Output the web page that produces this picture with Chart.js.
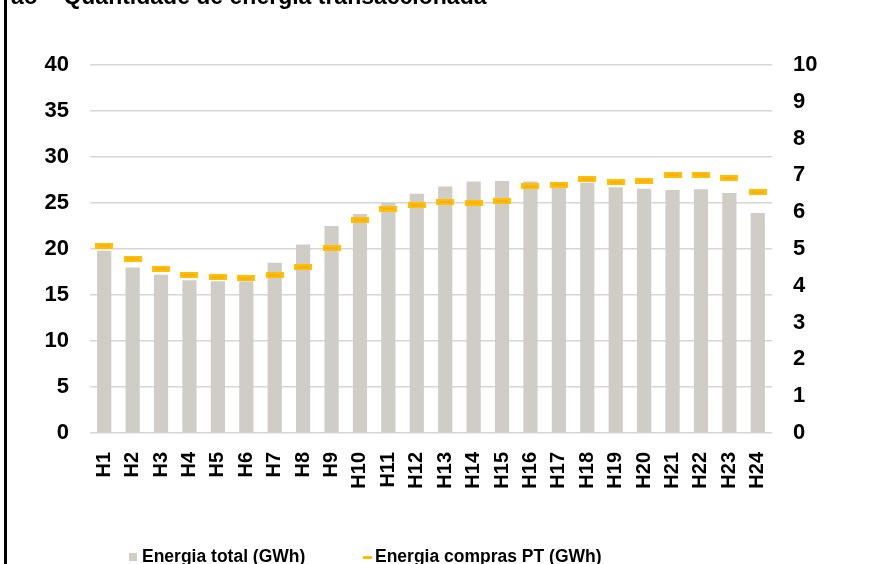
<!DOCTYPE html>
<html>
<head>
<meta charset="utf-8">
<script src="https://cdn.jsdelivr.net/npm/chart.js@4/dist/chart.umd.min.js"></script>
<style>
body{margin:0;background:#fff;font-family:"Liberation Sans",Arial,sans-serif;}
#wrap{position:relative;width:877px;height:564px;overflow:hidden;}
#chart{position:absolute;left:0;top:0;}
#frame{position:absolute;left:4px;top:0;width:3px;height:564px;background:#000;}
#title{position:absolute;left:11px;top:-15px;font-weight:bold;font-size:23px;line-height:23px;white-space:nowrap;color:#000;}
.leg{position:absolute;top:546px;font-weight:bold;font-size:17.5px;line-height:20px;white-space:nowrap;color:#000;}
.leg i{display:inline-block;vertical-align:middle;margin-right:5px;}
</style>
</head>
<body>
<div id="wrap">
<canvas id="chart" width="877" height="564"></canvas>
<div id="frame"></div>
<div id="title">ão – Quantidade de energia transaccionada</div>
<div class="leg" style="left:129px"><i style="width:8px;height:8px;background:#d0ccc6"></i>Energia total (GWh)</div>
<div class="leg" style="left:363px"><i style="width:9px;height:3px;background:#ffc000;margin-right:3px"></i>Energia compras PT (GWh)</div>
</div>
<script>
const hours=["H1","H2","H3","H4","H5","H6","H7","H8","H9","H10","H11","H12","H13","H14","H15","H16","H17","H18","H19","H20","H21","H22","H23","H24"];
const energiaTotal=[19.8,18.0,17.2,16.6,16.5,16.5,18.5,20.5,22.5,23.8,25.0,26.0,26.8,27.35,27.4,27.35,27.0,27.2,26.7,26.55,26.4,26.5,26.1,23.9];
const energiaComprasPT=[5.09,4.74,4.47,4.29,4.23,4.20,4.28,4.50,5.02,5.79,6.10,6.19,6.28,6.26,6.30,6.70,6.75,6.89,6.81,6.84,7.01,7.02,6.93,6.54];
const leftTicks=[0,40,5];
const rightTicks=[0,10,1];

// dash marker for the PT series
const dash=document.createElement("canvas");
dash.width=18;dash.height=6;
const dctx=dash.getContext("2d");
dctx.fillStyle="#ffc000";
dctx.fillRect(0,0,18,6);
dctx.fillStyle="#f0983a";
dctx.fillRect(3,2.5,12,1);

const tickFont={family:"'Liberation Sans', Arial, sans-serif",weight:"bold",size:22};

new Chart(document.getElementById("chart").getContext("2d"),{
    data:{
        labels:hours,
        datasets:[
            {type:'bar',label:'Energia total (GWh)',data:energiaTotal,backgroundColor:'#d0ccc6',barPercentage:0.5,categoryPercentage:1,yAxisID:'y',order:2},
            {type:'line',label:'Energia compras PT (GWh)',data:energiaComprasPT,showLine:false,pointStyle:dash,pointRadius:9,yAxisID:'y1',order:1}
        ]
    },
    options:{
        responsive:false,animation:false,
        layout:{padding:{top:65,left:0,right:0,bottom:0}},
        plugins:{legend:{display:false},tooltip:{enabled:false}},
        scales:{
            x:{
                grid:{display:false},border:{display:false},
                ticks:{color:'#000',font:{family:tickFont.family,weight:'bold',size:20},minRotation:90,maxRotation:90,padding:11},
                afterFit:s=>{s.height=131;}
            },
            y:{
                position:'left',min:leftTicks[0],max:leftTicks[1],
                grid:{color:'#d6d6d6',lineWidth:1.5,drawTicks:false},border:{display:false},
                ticks:{stepSize:leftTicks[2],color:'#000',font:tickFont,padding:21},
                afterFit:s=>{s.width=90;}
            },
            y1:{
                position:'right',min:rightTicks[0],max:rightTicks[1],
                grid:{display:false,drawTicks:false},border:{display:false},
                ticks:{stepSize:rightTicks[2],color:'#000',font:tickFont,padding:21},
                afterFit:s=>{s.width=105;}
            }
        }
    }
});
</script>
</body>
</html>
